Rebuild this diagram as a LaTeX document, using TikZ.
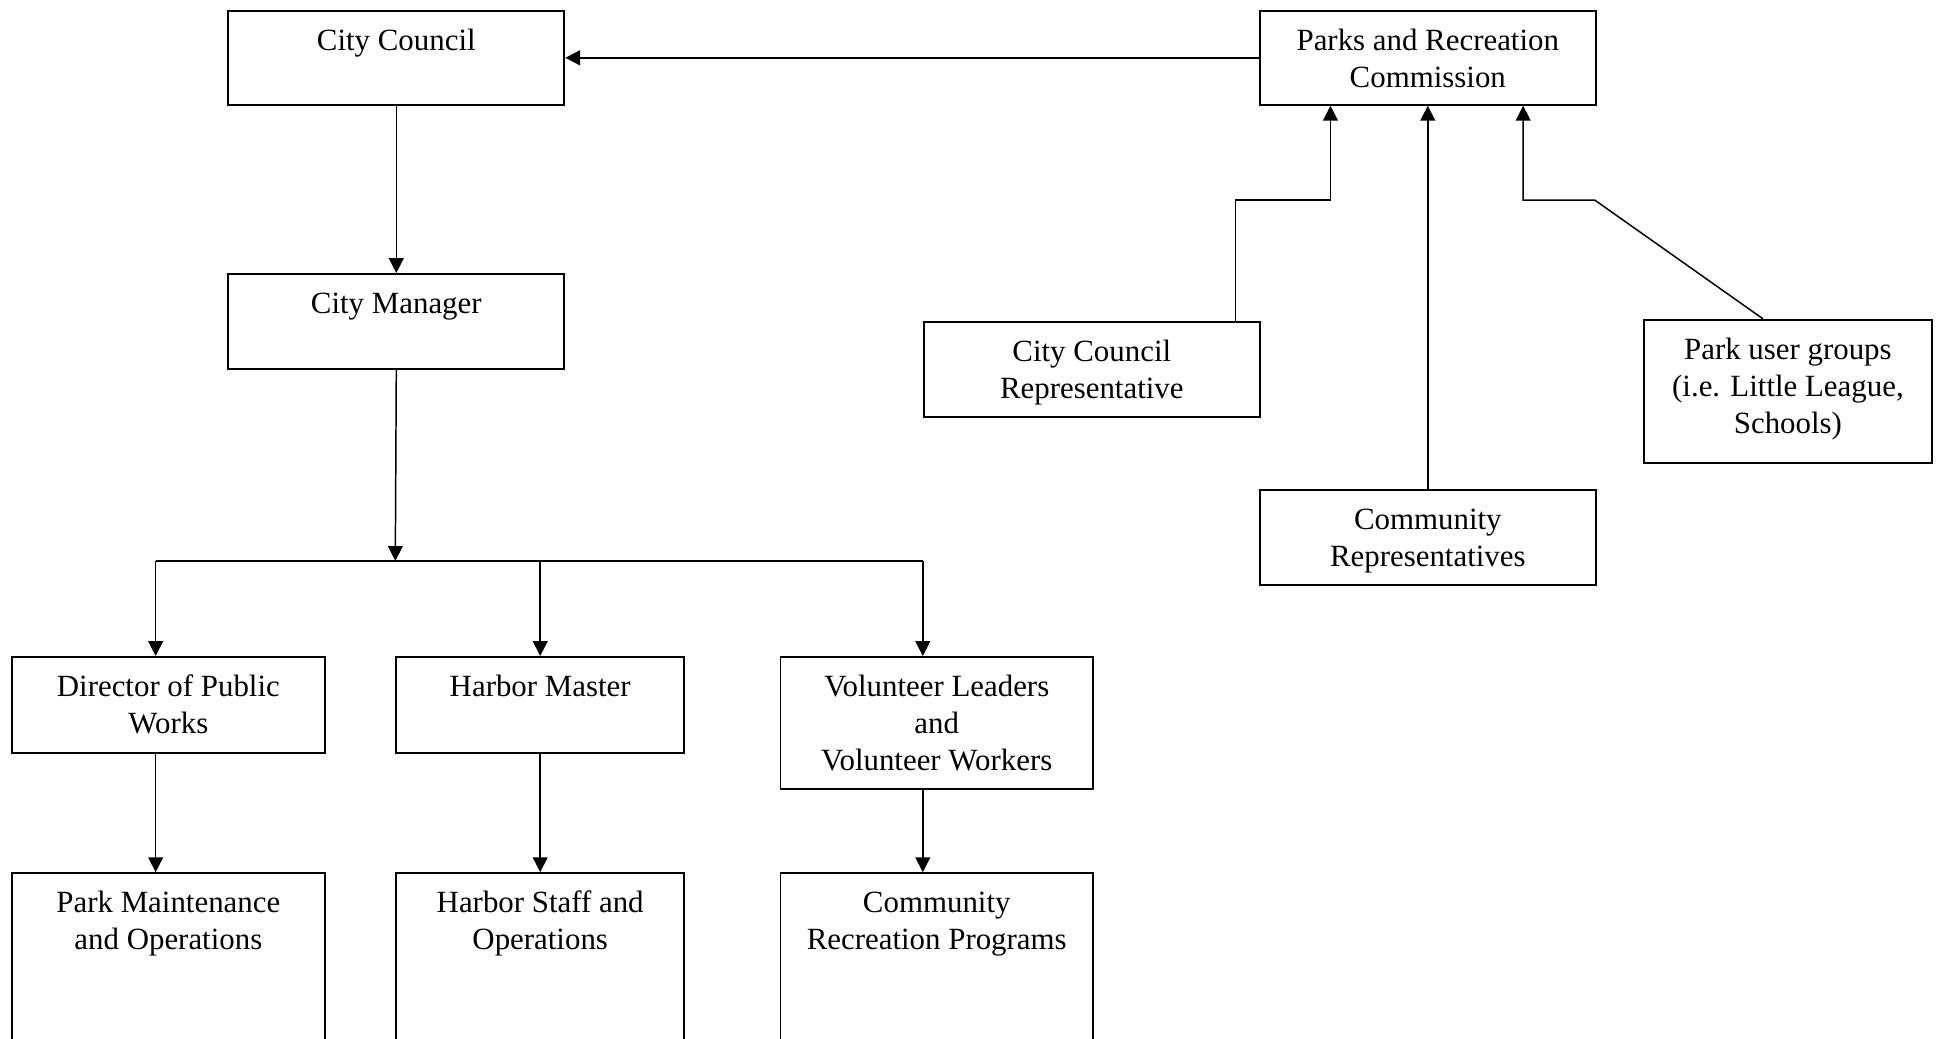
\documentclass[tikz,border=0pt]{standalone}
\usepackage{fontspec}
\setmainfont{Liberation Serif}
\usetikzlibrary{arrows.meta, positioning, calc}

% box text: width, height, text (top aligned)
\newcommand{\orgtext}[3]{\parbox[t][#2][t]{#1}{\centering\rule{0pt}{16pt}#3}}

\begin{document}
\begin{tikzpicture}[x=0.5pt, y=-0.5pt,
    every node/.style={font=\fontsize{12.5}{15}\selectfont},
    unit/.style={draw, line width=0.8pt, inner sep=0pt, anchor=north west},
    link/.style={line width=0.6pt, -{Triangle[length=6pt,width=6pt]}},
    bus/.style={line width=0.8pt}]
        \clip (0,0) rectangle (1568,841);

        % Council side
        \node[unit] (cc) at (184,8) {\orgtext{136pt}{38pt}{City Council}};
        \node[unit] (prc) at (1019,8) {\orgtext{136pt}{38pt}{Parks and Recreation\\Commission}};
        \node[unit] (cm) at (184,221) {\orgtext{136pt}{38.5pt}{City Manager}};

        % Commission members
        \node[unit] (ccr) at (747,260) {\orgtext{136pt}{38.5pt}{City Council\\Representative}};
        \node[unit] (pug) at (1330,258) {\orgtext{116.5pt}{58pt}{Park user groups\\(i.e. Little League,\\Schools)}};
        \node[unit] (cr) at (1019,396) {\orgtext{136pt}{38.5pt}{Community\\Representatives}};

        % Departments
        \node[unit] (dpw) at (9,531) {\orgtext{126.5pt}{39pt}{Director of Public\\Works}};
        \node[unit] (hm) at (320,531) {\orgtext{116.5pt}{39pt}{Harbor Master}};
        \node[unit] (vol) at (631,531) {\orgtext{126.5pt}{53.5pt}{Volunteer Leaders\\and\\Volunteer Workers}};

        % Operations
        \node[unit] (pmo) at (9,706) {\orgtext{126.5pt}{100pt}{Park Maintenance\\and Operations}};
        \node[unit] (hso) at (320,706) {\orgtext{116.5pt}{100pt}{Harbor Staff and\\Operations}};
        \node[unit] (crp) at (631,706) {\orgtext{126.5pt}{100pt}{Community\\Recreation Programs}};

        % Junctions
        \coordinate (busL) at (126,454);
        \coordinate (busM) at (320,454);
        \coordinate (busR) at (747,454);
        \coordinate (ccrA) at (1000,162);
        \coordinate (ccrB) at (1077,162);
        \coordinate (pugA) at (1291,162);
        \coordinate (pugB) at (1233,162);

        % Reporting lines
        \draw[link, bus] (prc.west) -- (cc.east);
        \draw[link] (cc.south) -- (cm.north);
        \draw[link] (cm.south) -- (busM);
        \draw[bus] (busL) -- (busR);
        \draw[link] (busL) -- (busL |- dpw.north);
        \draw[link] (busL -| hm.north) -- (hm.north);
        \draw[link] (busR) -- (busR |- vol.north);
        \draw[link] (dpw.south -| busL) -- (pmo.north -| busL);
        \draw[link] (hm.south) -- (hso.north);
        \draw[link] (vol.south -| busR) -- (crp.north -| busR);

        % Into the commission
        \draw[link] (ccrA |- ccr.north) -- (ccrA) -- (ccrB) -- (ccrB |- prc.south);
        \draw[link] (cr.north) -- (prc.south);
        \draw[link] (1427,0 |- pug.north) -- (pugA) -- (pugB) -- (pugB |- prc.south);
\end{tikzpicture}
\end{document}
